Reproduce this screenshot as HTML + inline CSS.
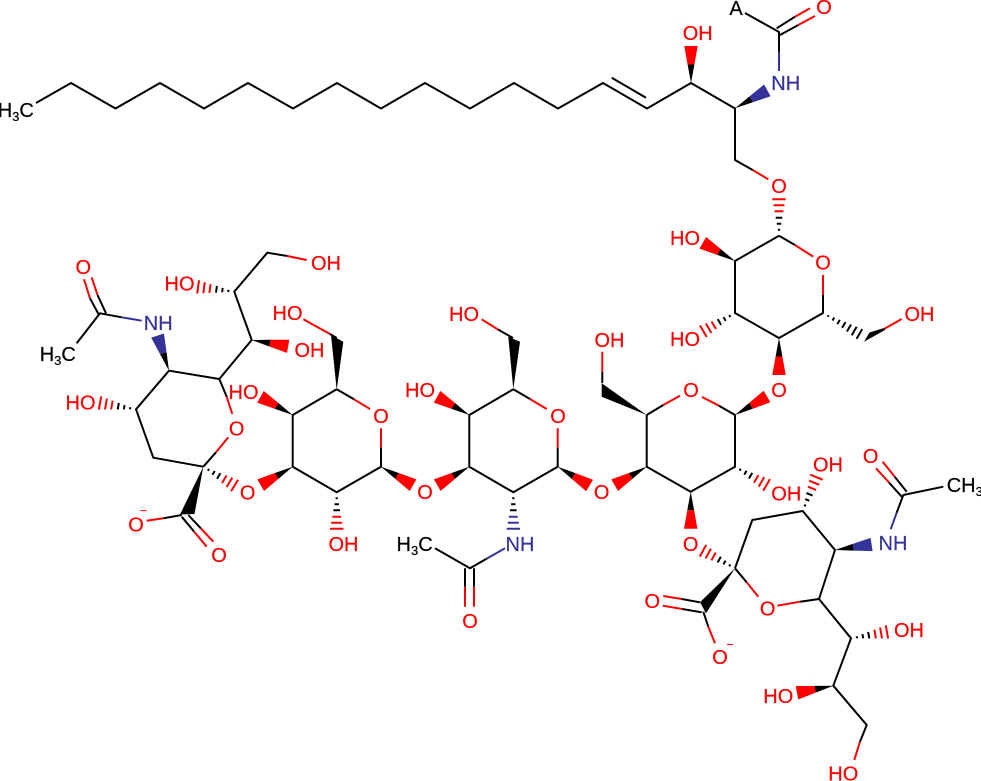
<!DOCTYPE html>
<html><head><meta charset="utf-8">
<style>
html,body{margin:0;padding:0;background:#fff;width:981px;height:781px;overflow:hidden}
svg{display:block}
text{font-family:"Liberation Sans",sans-serif;font-size:20px;text-anchor:middle;stroke-width:.2}
.r{fill:#f00;stroke:#f00}.b{fill:#33339a;stroke:#33339a}.k{fill:#000;stroke:#000}
.sm{font-size:13px}
.mn{font-size:12px}
path{fill:none;stroke-width:2;stroke-linejoin:round}
</style></head><body>
<svg xmlns="http://www.w3.org/2000/svg" width="981" height="781" viewBox="0 0 981 781">
<defs>
<g id="wr"><polygon fill="#000" points="0,0 18.5,-3.4 18.5,3.4"/><polygon fill="#f00" points="18.5,-3.4 37,-6.7 37,6.7 18.5,3.4"/></g>
<g id="wb"><polygon fill="#000" points="0,0 18.5,-3.4 18.5,3.4"/><polygon fill="#33339a" points="18.5,-3.4 37,-6.7 37,6.7 18.5,3.4"/></g>
<g id="hr"><path stroke="#000" d="M6,-1.1V1.1M12,-2.2V2.2M18,-3.3V3.3"/><path stroke="#f00" d="M24.5,-4.4V4.4M30.5,-5.5V5.5M36.5,-6.7V6.7"/></g>
<g id="hb"><path stroke="#000" d="M6,-1.1V1.1M12,-2.2V2.2M18,-3.3V3.3"/><path stroke="#33339a" d="M24.5,-4.4V4.4M30.5,-5.5V5.5M36.5,-6.7V6.7"/></g>
</defs>

<!-- black bonds -->
<path stroke="#000" d="
M36,103L71,83L115.5,108.5L160,83L204,108.5L248,83L293,108.5L337,83L381,108.5L425,83L470,108.5L514,83L558,108.5L603,83L647,108.5L691,83L735,108.5L735,160L752.7,170
M611.7,77.7L646,97.7
M745,13L779,32L779,51.5
M776.7,28.3L795,16.7M780,35L798.3,25
M779,235.7L795,245M823,295L823,313L779,338L735,313L735,261L779,235.7
M646.7,415L663.3,405M719,405.7L735,415L735,466.7L690.7,491.7L646.7,466.7L646.7,415
M513.3,389.3L530,399M557.7,447.7L557.7,466.7L513.3,492.3L469.3,466.7L469.3,415L513.3,389.3
M336.7,389.3L354,399.3M381,447.7L381,466.7L336.7,492.3L292.7,466.7L292.7,415L336.7,389.3
M487,558.5L470,568.3L435,548.3M465,568.3V586.7M474,568.3V586.7
M513,338L498,329.5M336.7,338L330,334
M203.3,466.7L216,452.3M226.7,396.7L219.3,379L169,370.7L136,409.3L153.3,457.7L203.3,466.7
M219.3,379L251.7,340L234.3,291.7L267.3,252.7L287.3,256
M121.7,317.3L100,313.3L76.7,343.3M99,315L90,298.3M106,313.3L97.5,295
M181.7,515L163.3,518.3M188.3,515L200.8,528.3M181.7,516.7L194,531.5
M602.3,383V371.7
M735,568.3L746.7,582.3M800,601.7L819,599L851,638.3L833.3,685.7L866.7,725L860,741.7
M735,568.3L752.3,520L802.7,511L835,550L819,599
M896.7,512.7L903.3,495L943.3,486.7M906.7,491.7L894.7,476.7M901.7,496.7L889,482.5
M700,602.3L681.7,599M701.7,612.3L682.2,609M703.3,611.7L708.3,626.7
"/>
<!-- red bonds -->
<path stroke="#f00" d="
M752.7,170L768.3,179.3
M795,16.7L810,8.3M798.3,25L815,16
M795,245L813.3,256.7M823,275V295
M663.3,405L680,395.7M702,397L719,405.7
M530,399L546.7,409M557.7,428.3V447.7
M354,399.3L370,409M381,428.3V447.7
M465,586.7V606.7M474,586.7V606.7
M498,329.5L481.7,319.3M330,334L303.3,319.3
M216,452.3L228.3,437.3M232.3,414L226.7,396.7
M287.3,256L306.7,260
M90,298.3L84,279.3M97.5,295L91.7,277.3
M163.3,518.3L146.7,520.7M200.8,528.3L213.3,541.7M194,531.5L206.7,546.7
M602.3,371.7V351.7
M746.7,582.3L758.3,596.7M777.3,605.7L800,601.7
M860,741.7L854.3,760
M894.7,476.7L882.7,461.7M889,482.5L876,468.3
M681.7,599L663.3,596M682.2,609L662.7,605.7M708.3,626.7L715,643.3
M884,329L901.7,319
"/>
<!-- blue bonds -->
<path stroke="#33339a" d="M779,51.5V71M505,548.3L487,558.5M141.7,320.7L121.7,317.3M890.7,529.3L896.7,512.7"/>

<!-- solid wedges to carbon -->
<polygon fill="#000" points="513.3,389.3 508.3,336.7 520,341.7"/>
<polygon fill="#000" points="336.7,390 331,335 343.3,341.7"/>
<polygon fill="#000" points="203.3,466.7 180,514.5 194.5,514"/>
<polygon fill="#000" points="646.7,415 601.7,383.3 601.7,396.7"/>
<polygon fill="#000" points="735,568.3 700,602.3 706,613.3"/>
<polygon fill="#000" points="864,341.7 869.5,332.5 884,328 885,330"/>

<!-- wedges -->
<use href="#wr" transform="translate(691,83) rotate(-90)"/>
<use href="#wb" transform="translate(735,108.3) rotate(-29)"/>
<use href="#wr" transform="translate(735,261) rotate(209.5)"/>
<use href="#wr" transform="translate(779,338) rotate(90)"/>
<use href="#wr" transform="translate(735,415) rotate(-30)"/>
<use href="#wr" transform="translate(646.7,466.7) rotate(150)"/>
<use href="#wr" transform="translate(557.7,466.7) rotate(30.5)"/>
<use href="#wr" transform="translate(469.3,466.7) rotate(150)"/>
<use href="#wr" transform="translate(469.3,415) rotate(209.5)"/>
<use href="#wr" transform="translate(381,466.7) rotate(30)"/>
<use href="#wr" transform="translate(292.7,466.7) rotate(150)"/>
<use href="#wr" transform="translate(292.7,415) rotate(209.5)"/>
<use href="#wr" transform="translate(251.7,340) rotate(9.8)"/>
<use href="#wb" transform="translate(169,370.7) rotate(252)"/>
<use href="#wr" transform="translate(690.7,491.7) rotate(90)"/>
<use href="#wr" transform="translate(833.3,685.7) rotate(169)"/>
<use href="#wb" transform="translate(835,550) rotate(-8.6)"/>

<!-- hashes -->
<use href="#hr" transform="translate(779,235.7) rotate(-90)"/>
<use href="#hr" transform="translate(735,313) rotate(150)"/>
<use href="#hb" transform="translate(513.3,492.3) rotate(90)"/>
<use href="#hr" transform="translate(336.7,492.3) rotate(90)"/>
<use href="#hr" transform="translate(234.3,291.7) rotate(187.6)"/>
<use href="#hr" transform="translate(136,409.3) rotate(190)"/>
<use href="#hr" transform="translate(203.3,466.7) rotate(31)"/>
<use href="#hr" transform="translate(735,466.7) rotate(30)"/>
<use href="#hr" transform="translate(851,638.3) rotate(-10)"/>
<use href="#hr" transform="translate(802.7,511) rotate(-67.8)"/>
<use href="#hr" transform="translate(735,568.3) rotate(208.8)"/>
<g transform="translate(823,313) rotate(30)"><path stroke="#000" d="M6,-.9V.9M12,-1.7V1.7M18,-2.5V2.5M24,-3.3V3.3M30,-4.1V4.1M36,-4.9V4.9M42,-5.7V5.7"/></g>

<!-- labels -->
<g transform="translate(0,.5)">
<text class="r" x="697.7" y="39.6">OH</text>
<text class="k" x="736" y="14.6">A</text>
<text class="r" x="824" y="13.6">O</text>
<text class="b" x="785.7" y="89.6">NH</text>
<text class="r" x="779" y="192.6">O</text>
<text class="r" x="685" y="244.6">HO</text>
<text class="r" x="823" y="269">O</text>
<text class="r" x="685" y="345.6">HO</text>
<text class="r" x="919.5" y="320.3">OH</text>
<text class="r" x="779" y="396.6">O</text>
<text class="r" x="691" y="396.6">O</text>
<text class="r" x="609.5" y="346.6">OH</text>
<text class="r" x="464" y="320.6">HO</text>
<text class="r" x="420" y="396.6">HO</text>
<text class="r" x="558" y="422.6">O</text>
<text class="r" x="425" y="498.6">O</text>
<text class="r" x="601.7" y="498.6">O</text>
<text class="b" x="520" y="550.6">NH</text>
<text class="r" x="470" y="627.3">O</text>
<text class="r" x="343.5" y="550.6">OH</text>
<text class="r" x="381" y="422.6">O</text>
<text class="r" x="287.5" y="319.6">HO</text>
<text class="r" x="243.5" y="398.3">HO</text>
<text class="r" x="247.7" y="498.9">O</text>
<text class="r" x="236.7" y="434.9">O</text>
<text class="r" x="326" y="269.3">OH</text>
<text class="r" x="179.5" y="289.9">HO</text>
<text class="r" x="309.5" y="356.6">OH</text>
<text class="b" x="158.2" y="329.3">NH</text>
<text class="r" x="83.3" y="273.3">O</text>
<text class="r" x="80.5" y="408.9">HO</text>
<text class="r" x="136" y="530.9">O</text>
<text class="r mn" x="143.5" y="514">−</text>
<text class="r" x="219" y="561.6">O</text>
<text class="r" x="690.7" y="550.6">O</text>
<text class="r" x="786.3" y="499.9">OH</text>
<text class="r" x="828" y="470.9">OH</text>
<text class="r" x="870.7" y="462.6">O</text>
<text class="b" x="893" y="549.3">NH</text>
<text class="r" x="652.3" y="607.3">O</text>
<text class="r" x="767.7" y="614.9">O</text>
<text class="r" x="720" y="663.3">O</text>
<text class="r mn" x="730" y="648">−</text>
<text class="r" x="909" y="636.6">OH</text>
<text class="r" x="778.3" y="702.3">HO</text>
<text class="r" x="843.3" y="779.9">HO</text>

<text class="k" style="text-anchor:start" x="-2.3" y="116.6">H<tspan class="sm" dy="4">3</tspan><tspan dy="-4">C</tspan></text>
<text class="k" style="text-anchor:start" x="39.7" y="360.6">H<tspan class="sm" dy="4">3</tspan><tspan dy="-4">C</tspan></text>
<text class="k" style="text-anchor:start" x="396.5" y="550.6">H<tspan class="sm" dy="4">3</tspan><tspan dy="-4">C</tspan></text>
<text class="k" style="text-anchor:start" x="946.7" y="491.6">CH<tspan class="sm" dy="4">3</tspan></text>
</g>
</svg>
</body></html>
